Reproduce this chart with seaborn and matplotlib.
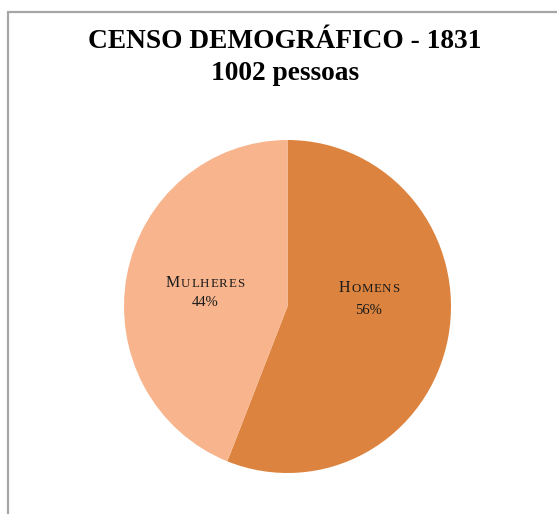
import matplotlib
matplotlib.use("Agg")
import matplotlib.pyplot as plt
import seaborn as sns
from matplotlib.patches import Rectangle

# Census data
categories = ["Homens", "Mulheres"]
shares = [56, 44]
title_lines = ["CENSO DEMOGRÁFICO - 1831", "1002 pessoas"]

sns.set_theme(style="white")
plt.rcParams["font.family"] = ["Liberation Serif", "DejaVu Serif"]

colors = sns.color_palette(["#DC843F", "#F8B58D"])

W, H = 557, 514
fig = plt.figure(figsize=(W / 100, H / 100), dpi=100)
fig.patch.set_facecolor("white")

# Chart frame (runs off the right and bottom edges)
fig.add_artist(Rectangle((8 / W, -0.1), 1.2, (H - 12) / H + 0.1,
                         transform=fig.transFigure, fill=False,
                         edgecolor="#A6A6A6", linewidth=1.6))

# Pie axes placed in pixel space
left, right, top, bottom = 124, 451, 140, 473
ax = fig.add_axes([left / W, (H - bottom) / H, (right - left) / W, (bottom - top) / H])
ax.pie(shares, colors=colors, startangle=90, counterclock=False, radius=1.0,
       wedgeprops=dict(linewidth=0))
ax.set_xlim(-1, 1)
ax.set_ylim(-1, 1)
ax.set_aspect("auto")
ax.axis("off")

# Title
fig.text(285 / W, (H - 42) / H, title_lines[0], ha="center", va="center",
         fontsize=19.7, fontweight="bold", color="black")
fig.text(285 / W, (H - 74) / H, title_lines[1], ha="center", va="center",
         fontsize=19.7, fontweight="bold", color="black")

renderer = fig.canvas.get_renderer()


def px(x, y):
    return x / 100, (H - y) / 100


def small_caps(cx, cy, word, big=11.5, small=9.3, spacing=0.8):
    """Write a word in small capitals centred at pixel (cx, cy)."""
    pieces = [(word[0].upper(), big)] + [(c.upper(), small) for c in word[1:]]
    texts, widths = [], []
    for ch, size in pieces:
        t = fig.text(0, 0, ch, fontsize=size, transform=fig.dpi_scale_trans,
                     va="baseline", ha="left", color="#1a1a1a")
        texts.append(t)
        widths.append(t.get_window_extent(renderer).width)
    total = sum(widths) + spacing * (len(widths) - 1)
    x = cx - total / 2
    base = cy + 4
    for t, w in zip(texts, widths):
        t.set_position(px(x, base))
        x += w + spacing


label_pos = {"Homens": (369, 288, 311), "Mulheres": (205, 283, 303)}
for name, val in zip(categories, shares):
    cx, y1, y2 = label_pos[name]
    small_caps(cx, y1, name)
    fig.text(*px(cx, y2), f"{val}%", fontsize=10.5, ha="center", va="center",
             transform=fig.dpi_scale_trans, color="#1a1a1a")

fig.savefig("out.png", dpi=100, facecolor="white")
